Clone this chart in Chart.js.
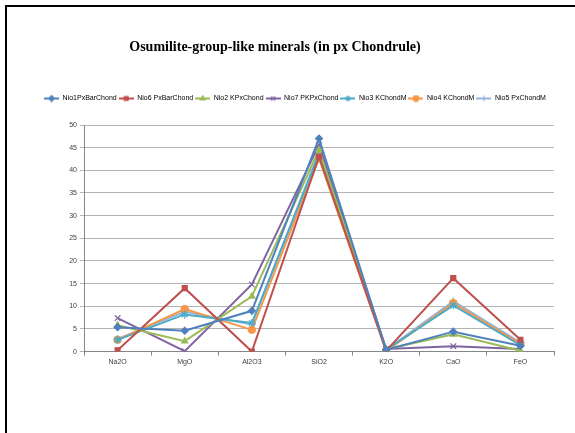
<!DOCTYPE html>
<html>
<head>
<meta charset="utf-8">
<script src="https://cdn.jsdelivr.net/npm/chart.js@4"></script>
<style>
  html, body { margin: 0; padding: 0; background: #fff; }
  #frame { position: absolute; left: 5px; top: 5px; width: 600px; height: 460px; border-left: 2px solid #000; border-top: 2px solid #000; }
  #wrap { position: absolute; left: 0; top: 0; width: 575px; height: 433px; }
  #title { position: absolute; left: 0; top: 38px; width: 550px; text-align: center; font: bold 14px "Liberation Serif", "Times New Roman", serif; line-height: 18px; color: #000; }
</style>
</head>
<body>
<div id="frame"></div>
<div id="wrap"><canvas id="chart"></canvas></div>
<div id="title">Osumilite-group-like minerals (in px Chondrule)</div>
<script>
const categories = ['Na2O', 'MgO', 'Al2O3', 'SiO2', 'K2O', 'CaO', 'FeO'];
const seriesNames = ['Nio1PxBarChond', 'Nio6 PxBarChond', 'Nio2 KPxChond', 'Nio7 PKPxChond', 'Nio3 KChondM', 'Nio4 KChondM', 'Nio5 PxChondM'];
const nio1 = [5.4, 4.6, 9.0, 47.0, 0.4, 4.4, 1.3];
const nio6 = [0.3, 14.0, 0.0, 43.0, 0.2, 16.2, 2.6];
const nio2 = [5.8, 2.3, 12.2, 44.5, 0.5, 3.8, 0.2];
const nio7 = [7.4, 0.1, 14.8, 45.6, 0.6, 1.2, 0.6];
const nio3 = [2.6, 8.2, 6.3, 43.5, 0.4, 10.2, 1.4];
const nio4 = [2.6, 9.4, 4.8, 42.6, 0.1, 10.7, 1.7];
const nio5 = [2.8, 8.8, 6.0, 44.0, 0.4, 11.1, 2.0];
const yTicks = [0, 5, 10, 15, 20, 25, 30, 35, 40, 45, 50];

const colors = ['#4F81BD', '#C0504D', '#9BBB59', '#8064A2', '#4BACC6', '#F79646', '#95B3D7'];
const markers = ['rectRot', 'rect', 'triangle', 'crossRot', 'star', 'circle', 'cross'];
const values = [nio1, nio6, nio2, nio7, nio3, nio4, nio5];

function markerRadius(style) {
  return (style === 'crossRot' || style === 'star' || style === 'cross') ? 4 : 3.5;
}

// legend swatch: short line with the marker on it
function legendIcon(i) {
  const c = document.createElement('canvas');
  c.width = 15; c.height = 8;
  const g = c.getContext('2d');
  g.strokeStyle = colors[i];
  g.fillStyle = colors[i];
  g.lineWidth = 2;
  g.beginPath(); g.moveTo(0, 4); g.lineTo(15, 4); g.stroke();
  g.lineWidth = 1.2;
  Chart.helpers.drawPoint(g, { pointStyle: markers[i], radius: 2.8, borderWidth: 1.2 }, 7.5, 4);
  g.fill();
  return c;
}

// extra room between legend and plot
const legendGap = {
  id: 'legendGap',
  beforeInit(chart) {
    const fit = chart.legend.fit;
    chart.legend.fit = function () {
      fit.bind(chart.legend)();
      this.height += 13;
    };
  }
};

const datasets = seriesNames.map((name, i) => ({
  label: name,
  data: values[i],
  borderColor: colors[i],
  backgroundColor: colors[i],
  borderWidth: 2,
  pointStyle: markers[i],
  pointRadius: markerRadius(markers[i]),
  pointBorderWidth: 1.2,
  tension: 0
}));

new Chart(document.getElementById('chart'), {
  type: 'line',
  data: { labels: categories, datasets: datasets },
  options: {
    responsive: true,
    maintainAspectRatio: false,
    animation: false,
    layout: { padding: { left: 36, right: 21, top: 93, bottom: 65 } },
    plugins: {
      title: { display: false },
      legend: {
        position: 'top',
        labels: {
          color: '#404040',
          font: { family: '"Liberation Sans", Arial, sans-serif', size: 7 },
          boxWidth: 15,
          padding: 2,
          usePointStyle: true,
          pointStyleWidth: 15,
          generateLabels: (chart) => chart.data.datasets.map((ds, i) => ({
            text: ds.label,
            pointStyle: legendIcon(i),
            fillStyle: colors[i],
            strokeStyle: colors[i],
            lineWidth: 0,
            datasetIndex: i,
            hidden: false
          }))
        }
      },
      tooltip: { enabled: false }
    },
    scales: {
      x: {
        offset: true,
        grid: { offset: true, drawOnChartArea: false, color: '#868686', tickLength: 4 },
        border: { color: '#868686', width: 1 },
        ticks: { color: '#404040', font: { family: '"Liberation Sans", Arial, sans-serif', size: 7 }, padding: 2 }
      },
      y: {
        min: 0,
        max: 50,
        afterBuildTicks: (axis) => { axis.ticks = yTicks.map(v => ({ value: v })); },
        afterFit: (axis) => { axis.width = 48; },
        grid: { color: '#B3B3B3', lineWidth: 1, tickLength: 4 },
        border: { color: '#868686', width: 1 },
        ticks: { color: '#404040', font: { family: '"Liberation Sans", Arial, sans-serif', size: 7 }, padding: 3 }
      }
    }
  },
  plugins: [legendGap]
});
</script>
</body>
</html>
